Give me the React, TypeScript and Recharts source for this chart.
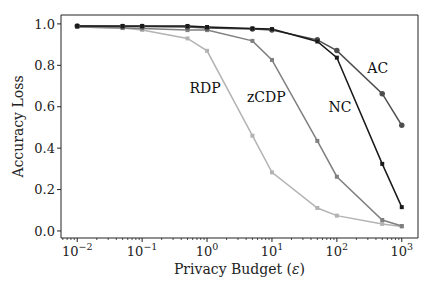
import { LineChart, Line, XAxis, YAxis, ReferenceDot, ReferenceLine } from "recharts";

const budgets = [0.01, 0.05, 0.1, 0.5, 1, 5, 10, 50, 100, 500, 1000];
const ncLoss = [0.99, 0.99, 0.99, 0.99, 0.985, 0.978, 0.975, 0.915, 0.837, 0.324, 0.115];
const acLoss = [0.99, 0.988, 0.988, 0.985, 0.98, 0.975, 0.97, 0.923, 0.871, 0.663, 0.51];
const zcdpLoss = [0.985, 0.98, 0.978, 0.97, 0.97, 0.918, 0.826, 0.435, 0.262, 0.053, 0.024];
const rdpLoss = [0.985, 0.98, 0.971, 0.93, 0.87, 0.46, 0.283, 0.111, 0.074, 0.034, 0.021];

const majorTicks = [0.01, 0.1, 1, 10, 100, 1000];
const minorTicks = [
  0.006, 0.007, 0.008, 0.009,
  0.02, 0.03, 0.04, 0.05, 0.06, 0.07, 0.08, 0.09,
  0.2, 0.3, 0.4, 0.5, 0.6, 0.7, 0.8, 0.9,
  2, 3, 4, 5, 6, 7, 8, 9,
  20, 30, 40, 50, 60, 70, 80, 90,
  200, 300, 400, 500, 600, 700, 800, 900,
];
const yTicks = [0, 0.2, 0.4, 0.6, 0.8, 1.0];

const labels = [
  { name: "RDP", x: 0.93, y: 0.69 },
  { name: "zCDP", x: 8.2, y: 0.647 },
  { name: "NC", x: 112, y: 0.6 },
  { name: "AC", x: 427, y: 0.787 },
];

const data = budgets.map((b, i) => ({
  eps: b,
  nc: ncLoss[i],
  ac: acLoss[i],
  zcdp: zcdpLoss[i],
  rdp: rdpLoss[i],
}));

const xDomain = [Math.pow(10, -2.25), Math.pow(10, 3.25)];
const yDomain = [-0.034, 1.043];
const allXTicks = [...majorTicks, ...minorTicks].sort((a, b) => a - b);
const font = "'DejaVu Serif', serif";
const ink = "#222";

// major ticks get a 10^n label, minor ones only a short line
function LogTick(props: any) {
  const { x, y, payload } = props;
  const v = payload.value;
  const exp = Math.round(Math.log10(v));
  const isMajor = Math.abs(Math.log10(v) - exp) < 1e-6;
  if (!isMajor) {
    return <line x1={x} x2={x} y1={y} y2={y + 2} stroke={ink} strokeWidth={0.8} />;
  }
  const s = exp < 0 ? "\u2212" + Math.abs(exp) : String(exp);
  return (
    <g>
      <line x1={x} x2={x} y1={y} y2={y + 4} stroke={ink} strokeWidth={1} />
      <text x={x} y={y + 18} textAnchor="middle" fontFamily={font} fontSize={13} fill={ink}>
        <tspan>10</tspan>
        <tspan dy={-6} fontSize={9.5}>{s}</tspan>
      </text>
    </g>
  );
}

function SquareDot(color: string) {
  return (props: any) => {
    const { cx, cy, index } = props;
    return <rect key={index} x={cx - 2} y={cy - 2} width={4} height={4} fill={color} />;
  };
}

function XLabel(props: any) {
  const { viewBox } = props;
  const cx = viewBox.x + viewBox.width / 2;
  return (
    <text x={cx} y={viewBox.y + 36} textAnchor="middle" fontFamily={font} fontSize={14} fill={ink}>
      Privacy Budget (<tspan fontStyle="italic">{"\u03b5"}</tspan>)
    </text>
  );
}

export default function App() {
  return (
    <div style={{ position: "absolute", left: 0, top: 0, width: 436, height: 289, background: "#fff" }}>
      <LineChart width={436} height={289} data={data} margin={{ top: 15, right: 18, bottom: 0, left: 0 }}>
        <XAxis
          dataKey="eps"
          type="number"
          scale="log"
          domain={xDomain}
          allowDataOverflow
          ticks={allXTicks}
          interval={0}
          tick={<LogTick />}
          tickLine={false}
          tickSize={0}
          tickMargin={0}
          height={51}
          stroke={ink}
          label={<XLabel />}
        />
        <YAxis
          type="number"
          domain={yDomain}
          allowDataOverflow
          ticks={yTicks}
          tickFormatter={(v: number) => v.toFixed(1)}
          tick={{ fontFamily: font, fontSize: 13, fill: ink }}
          tickSize={4}
          width={61}
          stroke={ink}
          label={{ value: "Accuracy Loss", angle: -90, position: "insideLeft", offset: 18, style: { textAnchor: "middle" }, fontFamily: font, fontSize: 14, fill: ink }}
        />
        <ReferenceLine y={yDomain[1]} stroke={ink} strokeWidth={1} />
        <ReferenceLine x={xDomain[1]} stroke={ink} strokeWidth={1} />
        <Line dataKey="rdp" stroke="#b3b3b3" strokeWidth={1.5} dot={SquareDot("#b3b3b3")} isAnimationActive={false} />
        <Line dataKey="zcdp" stroke="#7f7f7f" strokeWidth={1.5} dot={SquareDot("#7f7f7f")} isAnimationActive={false} />
        <Line dataKey="ac" stroke="#4d4d4d" strokeWidth={1.5} dot={{ r: 2, fill: "#4d4d4d", stroke: "#4d4d4d" }} isAnimationActive={false} />
        <Line dataKey="nc" stroke="#1a1a1a" strokeWidth={1.5} dot={SquareDot("#1a1a1a")} isAnimationActive={false} />
        {labels.map((l) => (
          <ReferenceDot
            key={l.name}
            x={l.x}
            y={l.y}
            r={0}
            fill="none"
            stroke="none"
            label={{ value: l.name, position: "center", fontFamily: font, fontSize: 14, fill: "#111" }}
          />
        ))}
      </LineChart>
    </div>
  );
}
